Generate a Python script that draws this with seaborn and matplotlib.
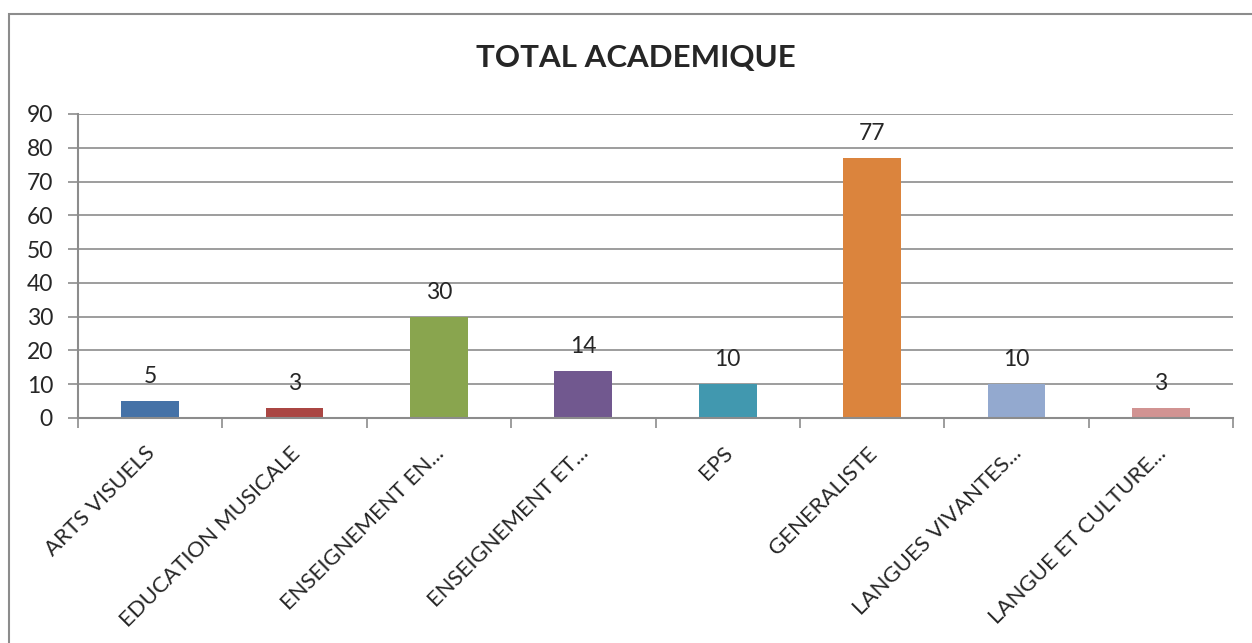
import matplotlib
matplotlib.use("Agg")
import matplotlib.pyplot as plt
import matplotlib.transforms as mtransforms
import seaborn as sns
import pandas as pd
from matplotlib.patches import Rectangle

# Chart data
categories = [
    "ARTS VISUELS",
    "EDUCATION MUSICALE",
    "ENSEIGNEMENT EN...",
    "ENSEIGNEMENT ET...",
    "EPS",
    "GENERALISTE",
    "LANGUES VIVANTES...",
    "LANGUE ET CULTURE...",
]
values = [5, 3, 30, 14, 10, 77, 10, 3]
bar_colors = ["#4572A7", "#AA4643", "#89A54E", "#71588F",
              "#4198AF", "#DB843D", "#93A9CF", "#D19392"]
y_ticks = [0, 10, 20, 30, 40, 50, 60, 70, 80, 90]

sns.set_theme(style="white")
plt.rcParams['font.family'] = ['Lato', 'DejaVu Sans']

df = pd.DataFrame({'category': categories, 'value': values})

fig = plt.figure(figsize=(12.52, 6.43), dpi=100)
ax = fig.add_axes([78 / 1252, 1 - 418 / 643, (1233 - 78) / 1252, (418 - 114) / 643])

sns.barplot(data=df, x='category', y='value', hue='category',
            palette=bar_colors, width=0.4, legend=False, ax=ax,
            saturation=1, linewidth=0)

grid_col = "#8c8c8c"
ax.set_ylim(0, 90)
ax.set_xlim(-0.5, len(categories) - 0.5)
ax.set_yticks(y_ticks)
ax.yaxis.grid(True, color=grid_col, linewidth=1.2)
ax.set_axisbelow(True)
for side in ['top', 'right']:
    ax.spines[side].set_visible(False)
for side in ['left', 'bottom']:
    ax.spines[side].set_color(grid_col)
    ax.spines[side].set_linewidth(1.5)

ax.tick_params(axis='y', length=7, width=1.2, color=grid_col,
               labelsize=16.5, left=True, pad=11)
ax.set_xticks(range(len(categories)))
ax.set_xticklabels(categories, rotation=45, ha='right',
                   rotation_mode='anchor', fontsize=16)
ax.tick_params(axis='x', which='major', length=0, pad=18)
shift = mtransforms.ScaledTranslation(-5 / 100, 0, fig.dpi_scale_trans)
for lbl in ax.get_xticklabels():
    lbl.set_transform(lbl.get_transform() + shift)
ax.set_xticks([i - 0.5 for i in range(len(categories) + 1)], minor=True)
ax.tick_params(axis='x', which='minor', length=7, width=1.2,
               color=grid_col, bottom=True)
ax.set_xlabel('')
ax.set_ylabel('')

for container in ax.containers:
    ax.bar_label(container, fontsize=16.5, padding=10)

fig.text((475 + 797) / 2 / 1252, 1 - 58 / 643, "TOTAL ACADEMIQUE",
         ha='center', va='center', fontsize=22.5, fontweight='bold')

# outer chart border (cropped at right and bottom like the reference)
fig.patches.append(Rectangle((9 / 1252, -0.05), 1.2, 1 - 14 / 643 + 0.05,
                             transform=fig.transFigure, fill=False,
                             edgecolor="#8c8c8c", linewidth=1.5))

fig.savefig("out.png", dpi=100)
